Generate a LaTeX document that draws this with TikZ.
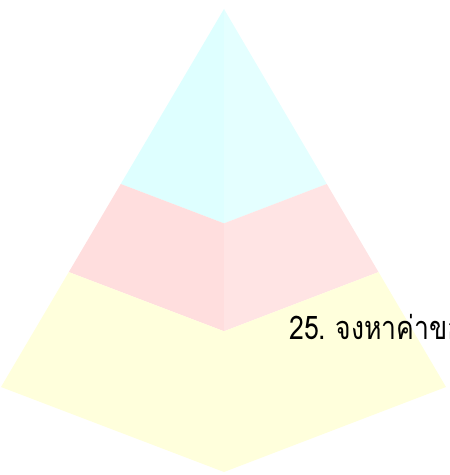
\documentclass[tikz,border=0pt]{standalone}
\usepackage{fontspec}
\newfontfamily\thaifont[Script=Thai,WordSpace=0.7,FakeStretch=0.82]{Loma}
\usetikzlibrary{calc}
\definecolor{pyrcyanL}{RGB}{222,255,255}
\definecolor{pyrcyanR}{RGB}{228,255,255}
\definecolor{pyrpinkL}{RGB}{255,222,222}
\definecolor{pyrpinkR}{RGB}{255,228,228}
\definecolor{pyryellow}{RGB}{255,255,220}

\begin{document}
\begin{tikzpicture}[x=0.02cm,y=-0.02cm]
    % Frame
    \useasboundingbox (0,0) rectangle (449,475);
    \clip (0,0) rectangle (449,475);
    
    % Pyramid corners
    \coordinate (A) at (224,9);
    \coordinate (L) at (1,387);
    \coordinate (F) at (224,472);
    \coordinate (R) at (446,387);
    
    % Band levels
    \foreach \pt in {L,F,R} {
        \coordinate (\pt1) at ($(A)!0.463!(\pt)$);
        \coordinate (\pt2) at ($(A)!0.696!(\pt)$);
    }
    
    % Bands
    \fill[pyrcyanL] (A)--(L1)--(F1)--cycle;
    \fill[pyrcyanR] (A)--(F1)--(R1)--cycle;
    \fill[pyrpinkL] (L1)--(L2)--(F2)--(F1)--cycle;
    \fill[pyrpinkR] (F1)--(F2)--(R2)--(R1)--cycle;
    \fill[pyryellow] (L2)--(L)--(F)--(R)--(R2)--(F2)--cycle;
    
    % Question text
    \node[anchor=base west,inner sep=0pt,font=\thaifont\fontsize{18.5}{22}\selectfont] (q) at (289,339) {25. จงหาค่าของ};
\end{tikzpicture}
\end{document}
